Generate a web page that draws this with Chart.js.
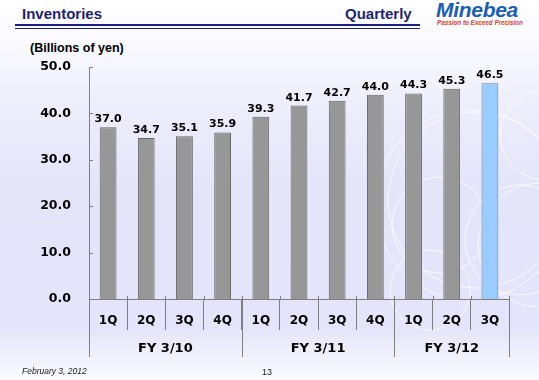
<!DOCTYPE html>
<html>
<head>
<meta charset="utf-8">
<script src="https://cdn.jsdelivr.net/npm/chart.js@4"></script>
<style>
  html, body { margin: 0; padding: 0; }
  #slide {
    position: relative; width: 539px; height: 380px; overflow: hidden;
    background: linear-gradient(to bottom, #ffffff 0%, #fbfbff 9%, #ececfb 30%, #e5e5fa 50%, #e4e4fa 86%, #f3f3fd 95%, #fafaff 100%);
    font-family: "Liberation Sans", Arial, sans-serif;
  }
  #swirl { position: absolute; left: 0; top: 0; }
  .title { position: absolute; top: 5px; font-weight: bold; font-size: 15px; color: #1c2570; }
  #rule1 { position: absolute; left: 15px; top: 24px; width: 405px; height: 2px; background: #1b1f86; }
  #rule2 { position: absolute; left: 15px; top: 28px; width: 405px; height: 1px; background: #1b1f86; }
  #logo1 { position: absolute; left: 436px; top: -2px; font: italic bold 21px "Liberation Sans", Arial, sans-serif; color: #1b5cb5; letter-spacing: -0.3px; }
  #logo2 { position: absolute; left: 437px; top: 19px; font: italic bold 6.3px "Liberation Sans", Arial, sans-serif; color: #e0402a; white-space: nowrap; }
  #unit { position: absolute; left: 30px; top: 41px; font-weight: bold; font-size: 12.5px; color: #000; }
  #date { position: absolute; left: 22px; top: 366px; font-style: italic; font-size: 8.5px; color: #222; }
  #page { position: absolute; left: 262px; top: 367px; font-size: 9px; color: #222; }
  canvas { position: absolute; left: 0; top: 0; }
</style>
</head>
<body>
<div id="slide">
  <svg id="swirl" width="539" height="380">
    <g fill="none" stroke="rgba(255,255,255,0.75)" stroke-width="1">
      <circle cx="470" cy="205" r="95"/>
      <circle cx="476" cy="200" r="88"/>
      <circle cx="440" cy="225" r="48"/>
      <circle cx="545" cy="135" r="45"/>
      <circle cx="520" cy="240" r="55"/>
      <circle cx="540" cy="245" r="62"/>
      <circle cx="430" cy="290" r="40"/>
    </g>
  </svg>
  <div class="title" style="left:22px">Inventories</div>
  <div class="title" style="left:345px">Quarterly</div>
  <div id="rule1"></div>
  <div id="rule2"></div>
  <div id="logo1">Minebea</div>
  <div id="logo2">Passion to Exceed Precision</div>
  <div id="unit">(Billions of yen)</div>
  <canvas id="myChart" width="539" height="380"></canvas>
  <div id="date">February 3, 2012</div>
  <div id="page">13</div>
</div>

<script>

var quarters = ['1Q', '2Q', '3Q', '4Q', '1Q', '2Q', '3Q', '4Q', '1Q', '2Q', '3Q'];
var inventories = [37.0, 34.7, 35.1, 35.9, 39.3, 41.7, 42.7, 44.0, 44.3, 45.3, 46.5];
var fiscalYears = ['FY 3/10', 'FY 3/11', 'FY 3/12'];
var yearStart = [0, 4, 8];
var yearEnd = [3, 7, 10];
var yTicks = [0, 10, 20, 30, 40, 50];

var barColors = [];
var barBorders = [];
for (var i = 0; i < inventories.length; i++) {
    if (i == inventories.length - 1) {
        barColors.push('#99ccff');
        barBorders.push('#5f7fa0');
    } else {
        barColors.push('#979797');
        barBorders.push('#666666');
    }
}

// labels over bars, fiscal year row, extra divider lines
var extras = {
    id: 'extras',
    afterDatasetsDraw: function (chart) {
        var ctx = chart.ctx;
        var meta = chart.getDatasetMeta(0);
        ctx.save();
        ctx.fillStyle = '#000';
        ctx.font = 'bold 11px "DejaVu Sans"';
        ctx.textAlign = 'center';
        ctx.textBaseline = 'alphabetic';
        meta.data.forEach(function (bar, i) {
            ctx.fillText(inventories[i].toFixed(1), bar.x, bar.y - 5);
        });
        ctx.restore();
    },
    afterDraw: function (chart) {
        var ctx = chart.ctx;
        var x = chart.scales.x;
        var y = chart.scales.y;
        var area = chart.chartArea;
        var half = (x.getPixelForValue(1) - x.getPixelForValue(0)) / 2;
        ctx.save();
        ctx.strokeStyle = '#7f7f7f';
        ctx.lineWidth = 1;
        ctx.beginPath();
        // small inside ticks on value axis
        yTicks.forEach(function (v) {
            var py = Math.round(y.getPixelForValue(v)) + 0.5;
            ctx.moveTo(area.left, py);
            ctx.lineTo(area.left + 4, py);
        });
        // boundaries poke a little above the axis
        for (var i = 0; i <= quarters.length; i++) {
            var bx = Math.round(x.getPixelForValue(0) - half + i * half * 2) + 0.5;
            ctx.moveTo(bx, area.bottom - 3);
            ctx.lineTo(bx, area.bottom);
        }
        // long lines between fiscal years
        var longs = [0, 4, 8, 11];
        longs.forEach(function (k) {
            var bx = Math.round(x.getPixelForValue(0) - half + k * half * 2) + 0.5;
            ctx.moveTo(bx, area.bottom);
            ctx.lineTo(bx, area.bottom + 58);
        });
        ctx.stroke();

        ctx.fillStyle = '#000';
        ctx.font = 'bold 13px "DejaVu Sans"';
        ctx.textAlign = 'center';
        ctx.textBaseline = 'middle';
        fiscalYears.forEach(function (label, g) {
            var cx = (x.getPixelForValue(yearStart[g]) + x.getPixelForValue(yearEnd[g])) / 2;
            ctx.fillText(label, cx, area.bottom + 50);
        });
        ctx.restore();
    }
};

var ctx = document.getElementById('myChart').getContext('2d');
var myChart = new Chart(ctx, {
    type: 'bar',
    data: {
        labels: quarters,
        datasets: [{
            data: inventories,
            backgroundColor: barColors,
            borderColor: barBorders,
            borderWidth: 1,
            barPercentage: 0.44,
            categoryPercentage: 1.0
        }]
    },
    options: {
        responsive: false,
        animation: false,
        layout: { padding: { left: 0, top: 67, right: 30, bottom: 0 } },
        plugins: {
            legend: { display: false },
            tooltip: { enabled: false }
        },
        scales: {
            x: {
                offset: true,
                grid: { offset: true, drawOnChartArea: false, tickLength: 31, color: '#7f7f7f' },
                border: { color: '#7f7f7f' },
                ticks: {
                    padding: -16,
                    color: '#000',
                    font: { family: 'DejaVu Sans', weight: 'bold', size: 12 }
                },
                afterFit: function (scale) { scale.height = 81; }
            },
            y: {
                min: 0,
                max: 50,
                grid: { display: false },
                border: { color: '#7f7f7f' },
                ticks: {
                    stepSize: 10,
                    padding: 10,
                    color: '#000',
                    font: { family: 'DejaVu Sans', weight: 'bold', size: 12.5 },
                    callback: function (v) { return v.toFixed(1); }
                },
                afterFit: function (scale) { scale.width = 89; }
            }
        }
    },
    plugins: [extras]
});

</script>
</body>
</html>
